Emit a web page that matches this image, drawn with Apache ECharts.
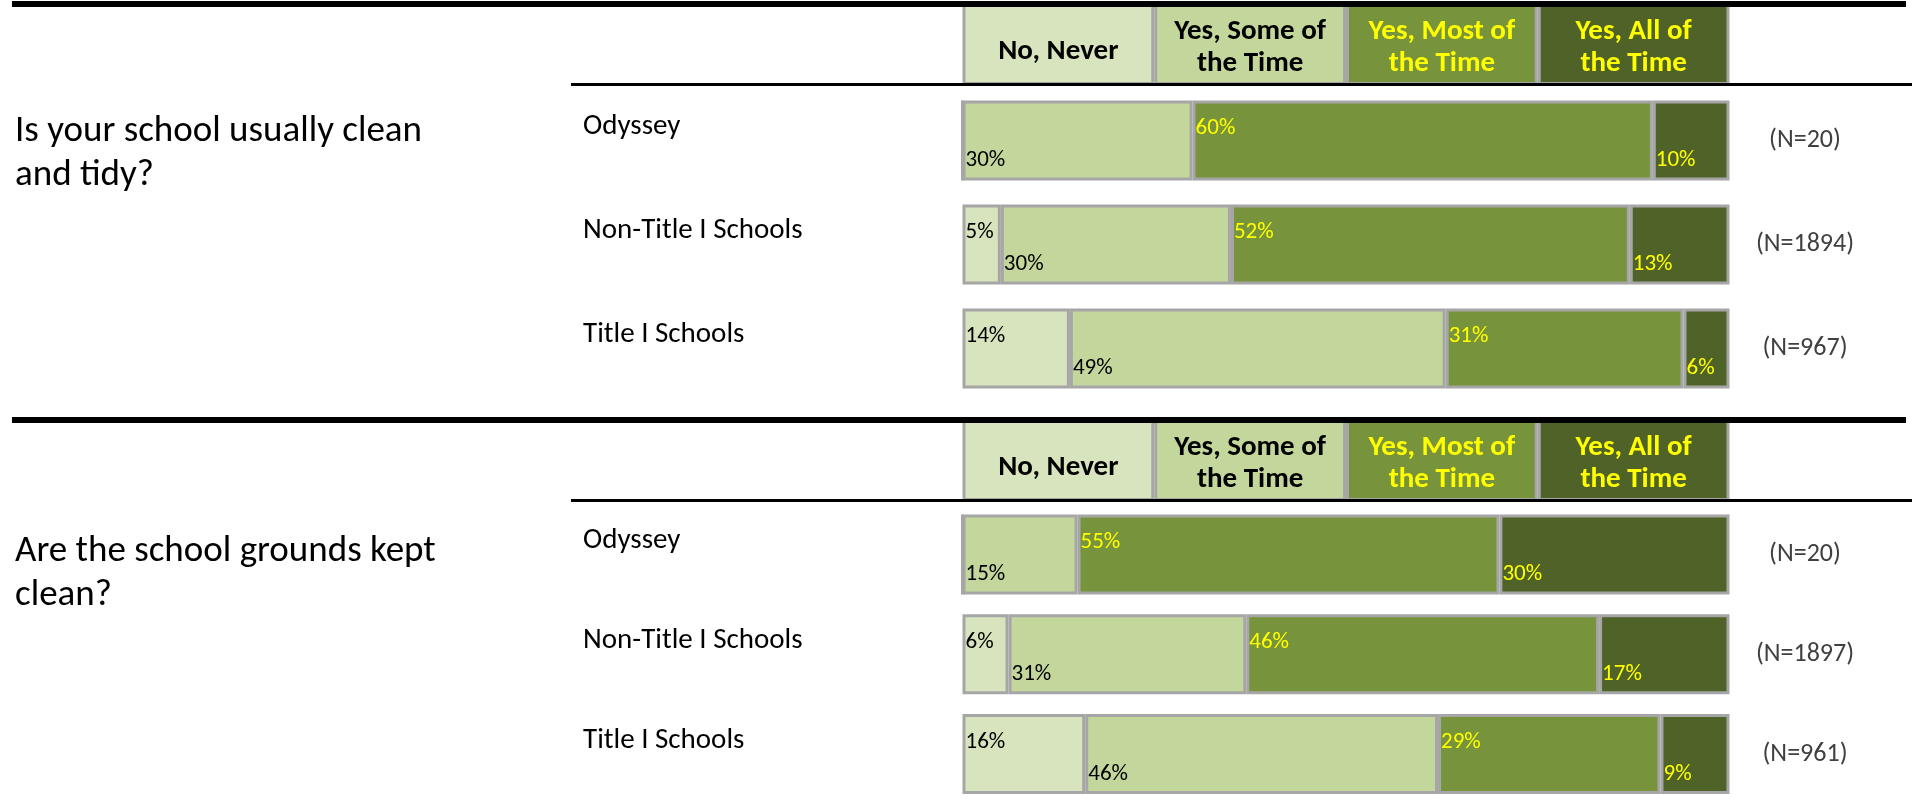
<!DOCTYPE html>
<html>
<head>
<meta charset="utf-8">
<script src="https://cdn.jsdelivr.net/npm/echarts@6/dist/echarts.min.js"></script>
<style>
html,body{margin:0;padding:0;background:#fff;}
#chart{width:1918px;height:804px;}
</style>
</head>
<body>
<div id="chart"></div>
<script>
// ---------- data ----------
const categories = ['Odyssey', 'Non-Title I Schools', 'Title I Schools'];
const responses = ['No, Never', 'Yes, Some of the Time', 'Yes, Most of the Time', 'Yes, All of the Time'];
const headerLabels = ['No, Never', 'Yes, Some of\nthe Time', 'Yes, Most of\nthe Time', 'Yes, All of\nthe Time'];
const headerShares = [25, 25, 25, 25];
const questions = ['Is your school usually clean\nand tidy?', 'Are the school grounds kept\nclean?'];

const q1Never = [0, 5, 14];
const q1Some  = [30, 30, 49];
const q1Most  = [60, 52, 31];
const q1All   = [10, 13, 6];
const q1N     = ['(N=20)', '(N=1894)', '(N=967)'];

const q2Never = [0, 6, 16];
const q2Some  = [15, 31, 46];
const q2Most  = [55, 46, 29];
const q2All   = [30, 17, 9];
const q2N     = ['(N=20)', '(N=1897)', '(N=961)'];

// ---------- styling ----------
const FONT = 'Carlito, Calibri, Lato, sans-serif';
const fills = ['#D7E4BD', '#C3D69B', '#77933C', '#4F6228'];
const textColors = ['#000000', '#000000', '#FFFF00', '#FFFF00'];
const BORDER = '#A6A6A6';

const sections = [
  { question: questions[0], values: [q1Never, q1Some, q1Most, q1All], n: q1N },
  { question: questions[1], values: [q2Never, q2Some, q2Most, q2All], n: q2N }
];

const OFF = 416;
const PLOT_LEFT = 962.5, PLOT_W = 767;

const grid = [], xAxis = [], yAxis = [], series = [], title = [], graphic = [];

sections.forEach((sec, s) => {
  const o = OFF * s;
  grid.push({ left: PLOT_LEFT, width: PLOT_W, top: 4 + o, height: 81 });
  grid.push({ left: PLOT_LEFT, width: PLOT_W, top: 88.5 + o, height: 312 });

  const hg = 2 * s, dg = 2 * s + 1;
  xAxis.push({ gridIndex: hg, type: 'value', min: 0, max: 100, show: false });
  xAxis.push({ gridIndex: dg, type: 'value', min: 0, max: 100, show: false });

  const hy = yAxis.length;
  yAxis.push({ gridIndex: hg, type: 'category', data: ['header'], show: false, inverse: true });
  const dy = yAxis.length;
  yAxis.push({
    gridIndex: dg, type: 'category', data: categories, inverse: true,
    axisLine: { show: false }, axisTick: { show: false }, splitLine: { show: false },
    axisLabel: {
      interval: 0, align: 'left', margin: PLOT_LEFT - 583, verticalAlign: 'bottom',
      lineHeight: 27, fontFamily: FONT, fontSize: 29, color: '#000000'
    }
  });
  yAxis.push({
    gridIndex: dg, type: 'category', data: sec.n, inverse: true, position: 'right',
    axisLine: { show: false }, axisTick: { show: false }, splitLine: { show: false },
    axisLabel: {
      interval: 0, align: 'center', margin: 1805 - (PLOT_LEFT + PLOT_W), verticalAlign: 'middle',
      fontFamily: FONT, fontSize: 26, color: '#404040'
    }
  });

  responses.forEach((r, i) => {
    series.push({
      type: 'bar', name: r, xAxisIndex: hg, yAxisIndex: hy, stack: 'h' + s,
      barWidth: 81, silent: true,
      data: [headerShares[i]],
      itemStyle: { color: fills[i], borderColor: BORDER, borderWidth: 3 },
      label: {
        show: true, position: 'inside', formatter: () => headerLabels[i],
        offset: [0, i === 0 ? 7 : 3],
        fontFamily: FONT, fontWeight: 'bold', fontSize: 29, lineHeight: 32,
        color: textColors[i], align: 'center'
      }
    });
  });

  responses.forEach((r, i) => {
    series.push({
      type: 'bar', name: r, xAxisIndex: dg, yAxisIndex: dy, stack: 'd' + s,
      barWidth: 80, silent: true,
      data: sec.values[i],
      itemStyle: { color: fills[i], borderColor: BORDER, borderWidth: 3 },
      label: {
        show: true,
        position: i % 2 === 0 ? [3, 28] : [3, 60],
        align: 'left', verticalAlign: 'middle',
        formatter: p => (p.value ? p.value + '%' : ''),
        fontFamily: FONT, fontSize: 23, color: textColors[i]
      }
    });
  });

  title.push({
    text: sec.question, left: 15, top: 109.5 + 420 * s, padding: 0,
    textStyle: { fontFamily: FONT, fontSize: 37, fontWeight: 'normal', lineHeight: 44, color: '#000000' }
  });

  graphic.push({ type: 'rect', z: 100, shape: { x: 12, y: 1 + o, width: 1894, height: 6 }, style: { fill: '#000' } });
  graphic.push({ type: 'rect', z: 100, shape: { x: 571, y: 83 + o, width: 1341, height: 3 }, style: { fill: '#000' } });
});

const chart = echarts.init(document.getElementById('chart'), null, { renderer: 'canvas' });
chart.setOption({
  animation: false,
  backgroundColor: '#ffffff',
  title, grid, xAxis, yAxis, series, graphic,
  tooltip: { show: false }
});
</script>
</body>
</html>
